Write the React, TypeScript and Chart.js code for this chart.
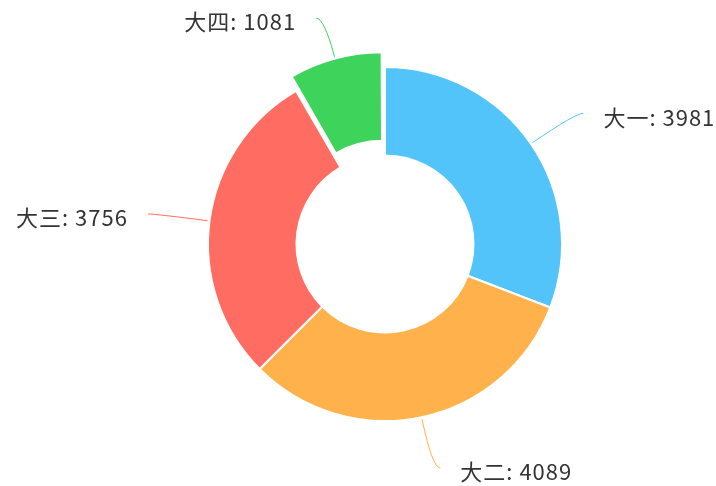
import React, { useEffect, useRef } from "react";
import { Chart, registerables } from "chart.js";

Chart.register(...registerables);

const categories = ["大一", "大二", "大三", "大四"];
const values = [3981, 4089, 3756, 1081];
const colors = ["#53C4FA", "#FFB24B", "#FF6C62", "#3ED45B"];
const sliceOffsets = [0, 0, 0, 40];
// layout: radial length of each label's leader line
const leaderLengths = [52, 50, 52, 40];

const labelPlugin = {
  id: "outsideLabels",
  afterDatasetsDraw(chart: any) {
    const ctx = chart.ctx;
    const meta = chart.getDatasetMeta(0);
    ctx.save();
    ctx.font = '22px "Noto Sans CJK SC", sans-serif';
    (ctx as any).letterSpacing = "1px";
    ctx.textBaseline = "middle";
    meta.data.forEach((arc: any, i: number) => {
      const p = arc.getProps(["x", "y", "startAngle", "endAngle", "outerRadius"], true);
      const mid = (p.startAngle + p.endAngle) / 2;
      const dx = Math.cos(mid);
      const dy = Math.sin(mid);
      const shift = (sliceOffsets[i] || 0) / 4;
      const fix = 1 - Math.sin(Math.min(Math.PI, p.endAngle - p.startAngle));
      const cx = p.x + dx * shift;
      const cy = p.y + dy * shift;
      const r = p.outerRadius + shift * fix + 2;
      const sx = cx + dx * r;
      const sy = cy + dy * r;
      const L = leaderLengths[i];
      const ex0 = sx + dx * L;
      const ey0 = sy + dy * L;
      const side = dx >= 0 ? 1 : -1;
      const ex = ex0 + side * 8;
      const ey = ey0;
      ctx.strokeStyle = colors[i];
      ctx.lineWidth = 1;
      ctx.beginPath();
      ctx.moveTo(sx, sy);
      ctx.quadraticCurveTo(ex0, ey0, ex, ey);
      ctx.stroke();
      ctx.fillStyle = "#333333";
      ctx.textAlign = side > 0 ? "left" : "right";
      ctx.fillText(categories[i] + ": " + values[i], ex + side * 20, ey + 4);
    });
    ctx.restore();
  },
};

export default function App() {
  const ref = useRef<HTMLCanvasElement>(null);
  useEffect(() => {
    if (!ref.current) return;
    const chart = new Chart(ref.current, {
      type: "doughnut",
      data: {
        labels: categories,
        datasets: [
          {
            data: values,
            backgroundColor: colors,
            borderColor: "#ffffff",
            borderWidth: 2,
            offset: sliceOffsets,
            hoverOffset: 0,
          },
        ],
      },
      options: {
        animation: false,
        responsive: false,
        radius: 177,
        cutout: "50%",
        layout: { padding: { left: 54, right: 0, top: 2, bottom: 0 } },
        plugins: {
          legend: { display: false },
          tooltip: { enabled: false },
        },
      } as any,
      plugins: [labelPlugin],
    });
    return () => chart.destroy();
  }, []);
  return (
    <div style={{ position: "fixed", left: 0, top: 0, width: 716, height: 486 }}>
      <canvas ref={ref} width={716} height={486} style={{ display: "block" }} />
    </div>
  );
}
